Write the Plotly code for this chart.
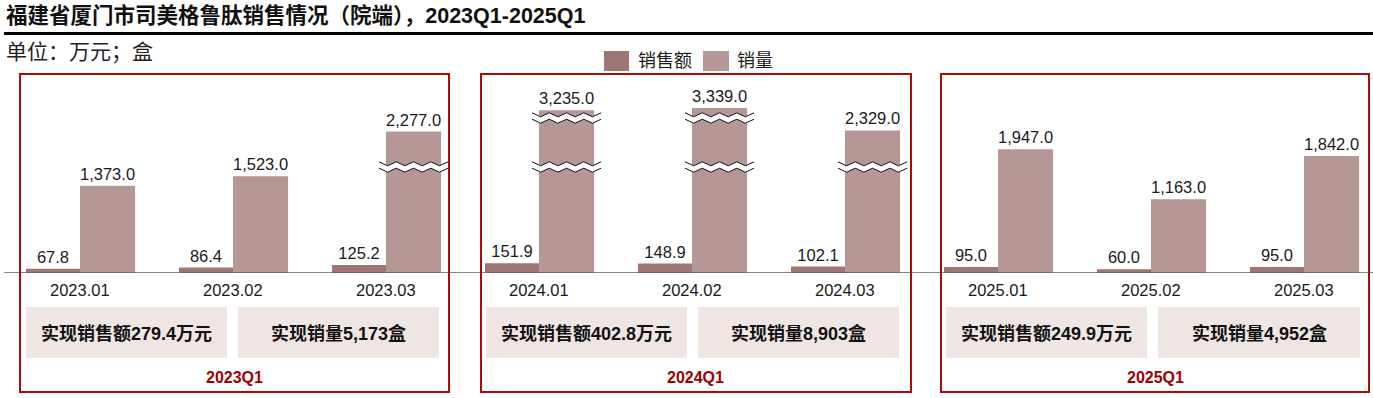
import plotly.graph_objects as go

# ---------------- data ----------------
months = ["2023.01", "2023.02", "2023.03",
          "2024.01", "2024.02", "2024.03",
          "2025.01", "2025.02", "2025.03"]
sales = [67.8, 86.4, 125.2, 151.9, 148.9, 102.1, 95.0, 60.0, 95.0]          # 万元
volume = [1373, 1523, 2277, 3235, 3339, 2329, 1947, 1163, 1842]            # 盒
quarters = ["2023Q1", "2024Q1", "2025Q1"]
quarter_sales = [279.4, 402.8, 249.9]
quarter_volume = [5173, 8903, 4952]
# bars drawn with axis-break marks (month, which breaks)
break_marks = {"2023.03": ["low"], "2024.01": ["high", "low"],
               "2024.02": ["high", "low"], "2024.03": ["low"]}

# ---------------- style ----------------
W, H = 1373, 398
FONT = "Liberation Sans, Noto Sans CJK SC, sans-serif"
C_SALES = "#9E7673"
C_VOL = "#B59795"
C_BOX = "#EFE6E4"
C_RED = "#AA0A0A"
C_TEXT = "#1a1a1a"

SCALE = 0.0635          # px per unit on y
BASE_PX = 273           # baseline pixel row
TOP_PX = 60
CAT_PX = 153            # px per category
X0_PX = 80              # centre pixel of first category
YMAX = (BASE_PX - TOP_PX) / SCALE

# compressed drawing of very tall bars (broken axis)
CUT, KEEP = 2200, 0.35


def shown(v):
    return v if v <= CUT else CUT + (v - CUT) * KEEP


def px_x(p):
    return p / W


def px_y(p):
    return 1 - p / H


idx = list(range(len(months)))

fig = go.Figure()
fig.add_bar(
    x=idx, y=sales, width=0.353, offset=-0.353, name="销售额",
    marker=dict(color=C_SALES, line=dict(width=0)),
    text=[f"{v:,.1f}" for v in sales], textposition="outside",
    textfont=dict(family=FONT, size=16.5, color=C_TEXT),
    constraintext="none", cliponaxis=False, textangle=0, showlegend=False,
)
fig.add_bar(
    x=idx, y=[shown(v) for v in volume], width=0.36, offset=0.0, name="销量",
    marker=dict(color=C_VOL, line=dict(width=0)),
    text=[f"{v:,.1f}" for v in volume], textposition="outside",
    textfont=dict(family=FONT, size=16.5, color=C_TEXT),
    constraintext="none", cliponaxis=False, textangle=0, showlegend=False,
)

shapes = []
annotations = []

# baseline
shapes.append(dict(type="line", xref="paper", yref="y", x0=px_x(4), x1=1,
                   y0=0, y1=0, line=dict(color="#5f5f5f", width=1.6), layer="above"))

# break marks on volume bars
dyp = 1 / SCALE          # data units per px (y)
dxp = 1 / CAT_PX         # data units per px (x)
levels = {"low": (BASE_PX - 167) / SCALE, "high": (BASE_PX - 118) / SCALE}
for m, which in break_marks.items():
    i = months.index(m)
    xa = i - 7 * dxp
    xb = i + 0.36 + 7 * dxp
    for w in which:
        c = levels[w]
        n = 8
        pts_top, pts_bot = [], []
        for k in range(n + 1):
            x = xa + (xb - xa) * k / n
            a = (2.0 if k % 2 == 0 else -2.0) * dyp
            pts_top.append((x, c + 3.2 * dyp + a))
            pts_bot.append((x, c - 3.2 * dyp + a))
        fill = "M " + " L ".join(f"{x},{y}" for x, y in pts_top)
        fill += " L " + " L ".join(f"{x},{y}" for x, y in reversed(pts_bot)) + " Z"
        shapes.append(dict(type="path", xref="x", yref="y", path=fill,
                           fillcolor="white", line=dict(width=0), layer="above"))
        for pts in (pts_top, pts_bot):
            p = "M " + " L ".join(f"{x},{y}" for x, y in pts)
            shapes.append(dict(type="path", xref="x", yref="y", path=p,
                               line=dict(color="#111111", width=1), layer="above"))

# month labels
for i, m in enumerate(months):
    annotations.append(dict(x=i, y=px_y(290), xref="x", yref="paper", text=m,
                            showarrow=False, xanchor="center", yanchor="middle",
                            font=dict(family=FONT, size=16.5, color=C_TEXT)))

# panels
panel_boxes = [(20, 449), (481, 911), (941, 1369)]
grey_left = [(26, 227), (486, 687), (946, 1147)]
grey_right = [(238, 439), (698, 899), (1158, 1360)]
for q, (bx0, bx1), (l0, l1), (r0, r1), qs, qv in zip(
        quarters, panel_boxes, grey_left, grey_right, quarter_sales, quarter_volume):
    shapes.append(dict(type="rect", xref="paper", yref="paper",
                       x0=px_x(bx0), x1=px_x(bx1), y0=px_y(392), y1=px_y(74),
                       line=dict(color=C_RED, width=2), fillcolor="rgba(0,0,0,0)",
                       layer="above"))
    for (g0, g1), txt in (((l0, l1), f"实现销售额{qs:,.1f}万元"),
                          ((r0, r1), f"实现销量{qv:,}盒")):
        shapes.append(dict(type="rect", xref="paper", yref="paper",
                           x0=px_x(g0), x1=px_x(g1), y0=px_y(358), y1=px_y(307),
                           line=dict(width=0), fillcolor=C_BOX, layer="below"))
        annotations.append(dict(x=px_x((g0 + g1) / 2), y=px_y(333), xref="paper",
                                yref="paper", text=f"<b>{txt}</b>", showarrow=False,
                                xanchor="center", yanchor="middle",
                                font=dict(family=FONT, size=18, color="#111111")))
    annotations.append(dict(x=px_x((bx0 + bx1) / 2), y=px_y(377), xref="paper",
                            yref="paper", text=f"<b>{q}</b>", showarrow=False,
                            xanchor="center", yanchor="middle",
                            font=dict(family=FONT, size=16, color="#A00000")))

# title, rule, unit
annotations.append(dict(x=px_x(4), y=px_y(16), xref="paper", yref="paper",
                        text="<b>福建省厦门市司美格鲁肽销售情况（院端），2023Q1-2025Q1</b>",
                        showarrow=False, xanchor="left", yanchor="middle",
                        font=dict(family=FONT, size=21.5, color="#111111")))
shapes.append(dict(type="line", xref="paper", yref="paper", x0=px_x(4), x1=1,
                   y0=px_y(33.5), y1=px_y(33.5), line=dict(color="black", width=3)))
annotations.append(dict(x=px_x(4), y=px_y(52), xref="paper", yref="paper",
                        text="单位：万元；盒", showarrow=False, xanchor="left",
                        yanchor="middle",
                        font=dict(family=FONT, size=21, color="#222222")))

# custom legend
for (s0, s1), t0, name, col in (((604, 629), 636, "销售额", C_SALES),
                                ((703, 729), 735, "销量", C_VOL)):
    shapes.append(dict(type="rect", xref="paper", yref="paper",
                       x0=px_x(s0), x1=px_x(s1), y0=px_y(71), y1=px_y(51),
                       line=dict(width=0), fillcolor=col))
    annotations.append(dict(x=px_x(t0), y=px_y(61), xref="paper", yref="paper",
                            text=name, showarrow=False, xanchor="left",
                            yanchor="middle",
                            font=dict(family=FONT, size=18, color=C_TEXT)))

fig.update_layout(
    width=W, height=H, margin=dict(l=0, r=0, t=0, b=0),
    paper_bgcolor="white", plot_bgcolor="white",
    barmode="overlay", showlegend=False,
    xaxis=dict(range=[-X0_PX / CAT_PX, (W - X0_PX) / CAT_PX], visible=False,
               fixedrange=True),
    yaxis=dict(range=[0, YMAX], domain=[px_y(BASE_PX), px_y(TOP_PX)],
               visible=False, fixedrange=True),
    shapes=shapes, annotations=annotations,
    font=dict(family=FONT),
)

fig.write_html(
    "out.html",
    config={"displayModeBar": False},
    post_script="document.body.style.margin='0';document.body.style.padding='0';"
                "document.body.style.overflow='hidden';",
)
